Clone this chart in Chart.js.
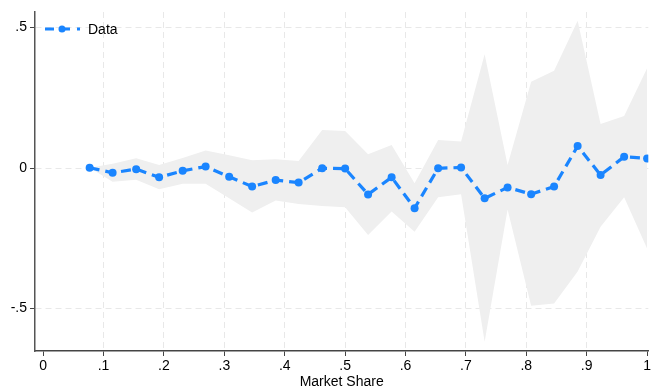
<!DOCTYPE html>
<html>
<head>
<meta charset="utf-8">
<script src="https://cdn.jsdelivr.net/npm/chart.js@4.4.0/dist/chart.umd.min.js"></script>
<style>
  html, body { margin: 0; padding: 0; background: #fff; }
  #wrap { width: 653px; height: 391px; }
</style>
</head>
<body>
<div id="wrap"><canvas id="chart"></canvas></div>
<script>
// market share bins (x), point estimates and the confidence band
const shares = [0.077, 0.115, 0.154, 0.192, 0.231, 0.269, 0.308, 0.346, 0.385, 0.423,
    0.462, 0.5, 0.538, 0.577, 0.615, 0.654, 0.692, 0.731, 0.769, 0.808,
    0.846, 0.885, 0.923, 0.962, 1];
const estimates = [0.001, -0.017, -0.004, -0.033, -0.010, 0.005, -0.031, -0.066, -0.043, -0.052,
    -0.001, -0.002, -0.094, -0.033, -0.143, -0.001, 0.002, -0.108, -0.069, -0.093,
    -0.066, 0.078, -0.025, 0.040, 0.034];
const upperCI = [0.001, 0.015, 0.035, 0.011, 0.036, 0.062, 0.045, 0.028, 0.031, 0.025,
    0.135, 0.132, 0.049, 0.082, -0.054, 0.100, 0.094, 0.405, 0.011, 0.307,
    0.346, 0.524, 0.157, 0.185, 0.355];
const lowerCI = [0.001, -0.049, -0.042, -0.076, -0.056, -0.056, -0.108, -0.158, -0.116, -0.128,
    -0.135, -0.140, -0.238, -0.155, -0.227, -0.104, -0.093, -0.618, -0.148, -0.490,
    -0.482, -0.368, -0.209, -0.104, -0.286];
const xTicks = [0, 0.1, 0.2, 0.3, 0.4, 0.5, 0.6, 0.7, 0.8, 0.9, 1];
const yTicks = [-0.5, 0, 0.5];

const blue = '#1a85ff';
const bandColor = '#efefef';
const font = { family: "'Liberation Sans', Arial, sans-serif", size: 14 };

function toPoints(ys) {
    return shares.map((x, i) => ({ x: x, y: ys[i] }));
}

// stata style labels: .5, 0, -.5
function fmt(v) {
    let s = String(Math.round(v * 10) / 10);
    return s.replace(/^0\./, '.').replace(/^-0\./, '-.');
}

// legend drawn inside the plot, top left
const insideLegend = {
    id: 'insideLegend',
    afterDraw(chart) {
        const ctx = chart.ctx;
        const y = 29;
        ctx.save();
        ctx.strokeStyle = blue;
        ctx.lineWidth = 3;
        ctx.setLineDash([9, 7]);
        ctx.beginPath();
        ctx.moveTo(45, y);
        ctx.lineTo(80, y);
        ctx.stroke();
        ctx.setLineDash([]);
        ctx.fillStyle = blue;
        ctx.beginPath();
        ctx.arc(62, y, 3.5, 0, Math.PI * 2);
        ctx.fill();
        ctx.fillStyle = '#000';
        ctx.font = '14px ' + font.family;
        ctx.textBaseline = 'middle';
        ctx.fillText('Data', 88, y + 1);
        ctx.restore();
    }
};

new Chart(document.getElementById('chart'), {
    type: 'line',
    data: {
        datasets: [
            {
                label: 'Data',
                data: toPoints(estimates),
                borderColor: blue,
                backgroundColor: blue,
                borderWidth: 3.2,
                borderDash: [10, 6],
                pointRadius: 4,
                pointBorderWidth: 0,
                pointBackgroundColor: blue,
                fill: false,
                tension: 0,
                order: 0
            },
            {
                label: 'lower',
                data: toPoints(lowerCI),
                borderWidth: 0,
                pointRadius: 0,
                fill: false,
                order: 1
            },
            {
                label: 'upper',
                data: toPoints(upperCI),
                borderWidth: 0,
                pointRadius: 0,
                backgroundColor: bandColor,
                fill: 1,
                order: 1
            }
        ]
    },
    options: {
        responsive: true,
        maintainAspectRatio: false,
        animation: false,
        layout: { padding: { top: 12, right: 1, left: 0, bottom: 0 } },
        plugins: {
            legend: { display: false },
            tooltip: { enabled: false }
        },
        scales: {
            x: {
                type: 'linear',
                min: -0.0135,
                max: 1.002,
                afterBuildTicks: (scale) => { scale.ticks = xTicks.map(v => ({ value: v })); },
                afterFit: (scale) => { scale.height = 40; },
                ticks: {
                    color: '#000',
                    font: font,
                    padding: 2,
                    maxRotation: 0,
                    callback: (v) => fmt(v)
                },
                grid: {
                    color: (c) => (c.tick && (c.tick.value === 0 || c.tick.value === 1)) ? 'rgba(0,0,0,0)' : '#e8e8e8',
                    lineWidth: 1,
                    tickColor: '#444',
                    tickLength: 5,
                    tickWidth: 1
                },
                border: { display: true, color: '#444', width: 1.5, dash: [6, 4] },
                title: {
                    display: true,
                    text: 'Market Share',
                    color: '#000',
                    font: font,
                    padding: { top: 3, bottom: 0 }
                }
            },
            y: {
                type: 'linear',
                min: -0.651,
                max: 0.555,
                afterBuildTicks: (scale) => { scale.ticks = yTicks.map(v => ({ value: v })); },
                afterFit: (scale) => { scale.width = 35; },
                ticks: {
                    color: '#000',
                    font: font,
                    padding: 3,
                    callback: (v) => fmt(v)
                },
                grid: {
                    color: '#e8e8e8',
                    lineWidth: 1,
                    tickColor: '#444',
                    tickLength: 5,
                    tickWidth: 1
                },
                border: { display: true, color: '#555', width: 1.5, dash: [6, 4] }
            }
        }
    },
    plugins: [insideLegend]
});
</script>
</body>
</html>
